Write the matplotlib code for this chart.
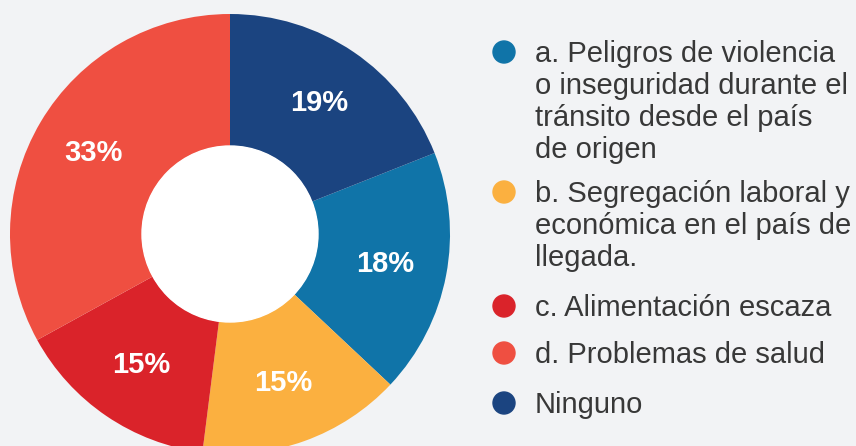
import matplotlib
matplotlib.use("Agg")
import matplotlib.pyplot as plt
from matplotlib.patches import Circle

labels = ["a. Peligros de violencia\no inseguridad durante el\ntránsito desde el país\nde origen",
          "b. Segregación laboral y\neconómica en el país de\nllegada.",
          "c. Alimentación escaza",
          "d. Problemas de salud",
          "Ninguno"]
values = [18, 15, 15, 33, 19]
colors = ["#1074a8", "#fbb040", "#da232a", "#ef4f41", "#1b4480"]

W, H = 856, 446
bg = "#f2f3f5"
fig = plt.figure(figsize=(W / 100, H / 100), dpi=100, facecolor=bg)

cx, cy, r = 230, 234, 220
ax = fig.add_axes([(cx - r) / W, (H - cy - r) / H, 2 * r / W, 2 * r / H])
ax.set_facecolor(bg)
start = 90 - values[-1] / sum(values) * 360
wedges, texts, autotexts = ax.pie(
    values, colors=colors, startangle=start, counterclock=False,
    radius=1.0, wedgeprops=dict(width=0.6, linewidth=0),
    autopct="%d%%", pctdistance=0.72,
    textprops=dict(color="white", fontsize=21, fontweight="bold",
                   family="Liberation Sans"))
ax.add_patch(Circle((0, 0), 0.4, color="white", zorder=5))
ax.set_xlim(-1, 1)
ax.set_ylim(-1, 1)
ax.axis("off")

marker_y = [52, 192, 306, 353, 403]
line_h = 32
for lab, col, my in zip(labels, colors, marker_y):
    fig.patches.append(Circle((504, H - my), 11, color=col,
                              transform=None, figure=fig))
    for i, line in enumerate(lab.split("\n")):
        by = my + 10 + i * line_h
        fig.text(535 / W, 1 - by / H, line, ha="left", va="baseline",
                 fontsize=21, color="#383838", family="Liberation Sans")

fig.savefig("out.png", dpi=100, facecolor=bg)
